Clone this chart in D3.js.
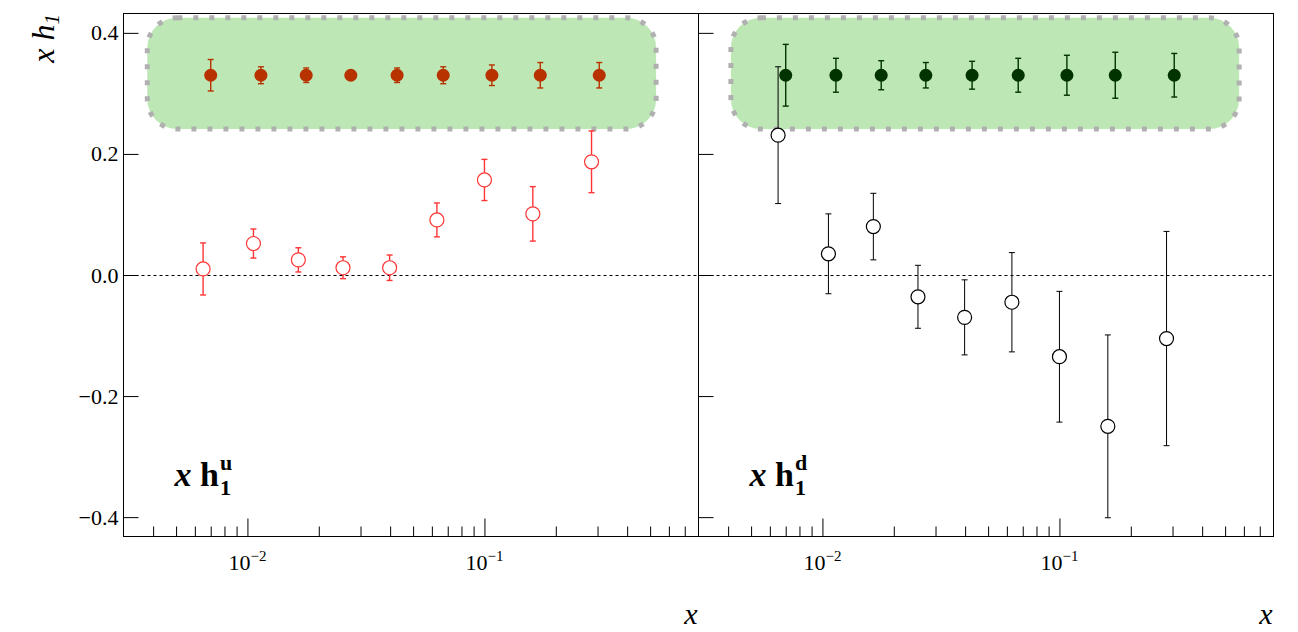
<!DOCTYPE html>
<html>
<head>
<meta charset="utf-8">
<script src="https://cdn.jsdelivr.net/npm/d3@7"></script>
<style>
  html, body { margin: 0; padding: 0; background: #ffffff; }
  svg { display: block; }
  text { font-family: "Liberation Serif", "Times New Roman", serif; fill: #000; }
</style>
</head>
<body>
<svg id="chart" width="1298" height="632"></svg>
<script>
// Bin centres in x for the extracted transversity points
const xBins = [0.0065, 0.0106, 0.0164, 0.0253, 0.0398, 0.0630, 0.100, 0.160, 0.283];
// Projection points are drawn slightly to the right of each bin
const xProj = [0.0070, 0.0114, 0.0177, 0.0273, 0.0428, 0.0670, 0.1075, 0.172, 0.305];

// u quark: extracted values and their errors
const uValues = [0.010, 0.052, 0.025, 0.012, 0.012, 0.091, 0.157, 0.101, 0.187];
const uErrors = [0.043, 0.024, 0.020, 0.018, 0.021, 0.028, 0.034, 0.045, 0.051];
// d quark: extracted values and their errors
const dValues = [0.231, 0.035, 0.080, -0.036, -0.070, -0.045, -0.135, -0.250, -0.105];
const dErrors = [0.113, 0.066, 0.055, 0.052, 0.062, 0.082, 0.108, 0.151, 0.177];

// Projected uncertainties, shown at a common reference level
const projLevel = [0.33, 0.33, 0.33, 0.33, 0.33, 0.33, 0.33, 0.33, 0.33];
const uProjErrors = [0.026, 0.014, 0.012, 0.006, 0.012, 0.014, 0.017, 0.021, 0.021];
const dProjErrors = [0.051, 0.028, 0.024, 0.021, 0.023, 0.028, 0.033, 0.038, 0.036];

// Axis ticks
const yTicks = [-0.4, -0.2, 0.0, 0.2, 0.4];
const xMajorTicks = [0.01, 0.1];
const xMajorLabels = ["\u22122", "\u22121"];
const xMinorTicks = [0.004, 0.005, 0.006, 0.007, 0.008, 0.009,
                     0.02, 0.03, 0.04, 0.05, 0.06, 0.07, 0.08, 0.09,
                     0.2, 0.3, 0.4, 0.5, 0.6, 0.7];

const xDomain = [0.003, 0.8];
const yDomain = [-0.432, 0.432];

// Highlight band behind the projection points (data units)
const uBand = { x0: 0.00378, x1: 0.53, y0: 0.241, y1: 0.425 };
const dBand = { x0: 0.00411, x1: 0.573, y0: 0.241, y1: 0.425 };

const svg = d3.select("#chart");
const plotTop = 13.5, plotBottom = 536.5, panelW = 575;
const panelsLeft = [123.5, 698.5];

const y = d3.scaleLinear().domain(yDomain).range([plotBottom, plotTop]);
const crisp = v => Math.round(v) + 0.5;

const panels = [
  { left: panelsLeft[0], values: uValues, errors: uErrors, proj: uProjErrors,
    band: uBand, color: "#ff3535", projColor: "#b83200", errWidth: 1.4, label: "u" },
  { left: panelsLeft[1], values: dValues, errors: dErrors, proj: dProjErrors,
    band: dBand, color: "#000000", projColor: "#003300", errWidth: 1.0, label: "d" }
];

panels.forEach((p, pi) => {
  const x = d3.scaleLog().domain(xDomain).range([p.left, p.left + panelW]);
  const g = svg.append("g");

  // zero reference line
  g.append("line")
    .attr("x1", p.left).attr("x2", p.left + panelW)
    .attr("y1", crisp(y(0))).attr("y2", crisp(y(0)))
    .attr("stroke", "#000").attr("stroke-width", 1)
    .attr("stroke-dasharray", "3,3");

  // rounded highlight band
  const bx0 = x(p.band.x0), bx1 = x(p.band.x1);
  const by0 = y(p.band.y1), by1 = y(p.band.y0);
  g.append("rect")
    .attr("x", bx0).attr("y", by0)
    .attr("width", bx1 - bx0).attr("height", by1 - by0)
    .attr("rx", 30).attr("ry", 30)
    .attr("fill", "#bde8b5")
    .attr("stroke", "#b0b0b0").attr("stroke-width", 5)
    .attr("stroke-dasharray", "5,11");

  // projection points with error bars
  const proj = g.append("g");
  projLevel.forEach((v, i) => {
    const cx = x(xProj[i]);
    const e = p.proj[i];
    proj.append("line")
      .attr("x1", cx).attr("x2", cx)
      .attr("y1", y(v + e)).attr("y2", y(v - e))
      .attr("stroke", p.projColor).attr("stroke-width", 1.4);
    [v + e, v - e].forEach(yy => {
      proj.append("line")
        .attr("x1", cx - 3).attr("x2", cx + 3)
        .attr("y1", y(yy)).attr("y2", y(yy))
        .attr("stroke", p.projColor).attr("stroke-width", 1.4);
    });
    proj.append("circle")
      .attr("cx", cx).attr("cy", y(v)).attr("r", 6.5)
      .attr("fill", p.projColor);
  });

  // extracted points: open circles with error bars
  const pts = g.append("g");
  p.values.forEach((v, i) => {
    const cx = x(xBins[i]);
    const e = p.errors[i];
    pts.append("line")
      .attr("x1", cx).attr("x2", cx)
      .attr("y1", y(v + e)).attr("y2", y(v - e))
      .attr("stroke", p.color).attr("stroke-width", p.errWidth);
    [v + e, v - e].forEach(yy => {
      pts.append("line")
        .attr("x1", cx - 3).attr("x2", cx + 3)
        .attr("y1", y(yy)).attr("y2", y(yy))
        .attr("stroke", p.color).attr("stroke-width", p.errWidth);
    });
    pts.append("circle")
      .attr("cx", cx).attr("cy", y(v)).attr("r", 7)
      .attr("fill", "#fff")
      .attr("stroke", p.color).attr("stroke-width", 1.2);
  });

  // frame
  g.append("rect")
    .attr("x", p.left).attr("y", plotTop)
    .attr("width", panelW).attr("height", plotBottom - plotTop)
    .attr("fill", "none").attr("stroke", "#000").attr("stroke-width", 1);

  // y axis ticks (pointing inward)
  const yAxis = d3.axisLeft(y).tickValues(yTicks)
    .tickSizeInner(-15).tickSizeOuter(0).tickPadding(6)
    .tickFormat(pi === 0 ? d3.format(".1f") : () => "");
  const ya = g.append("g").attr("transform", `translate(${p.left},0)`).call(yAxis);
  ya.attr("font-family", null).attr("font-size", null);
  ya.select(".domain").remove();
  ya.selectAll(".tick line").attr("stroke", "#000");
  ya.selectAll(".tick text")
    .attr("font-size", 22).attr("x", -5);

  // x axis: minor and major ticks pointing up
  const xMinor = d3.axisBottom(x).tickValues(xMinorTicks)
    .tickSizeInner(-10).tickSizeOuter(0).tickFormat(() => "");
  const xm = g.append("g").attr("transform", `translate(0,${plotBottom})`).call(xMinor);
  xm.select(".domain").remove();
  xm.selectAll(".tick line").attr("stroke", "#000");

  const xMajor = d3.axisBottom(x).tickValues(xMajorTicks)
    .tickSizeInner(-18).tickSizeOuter(0).tickFormat(() => "");
  const xM = g.append("g").attr("transform", `translate(0,${plotBottom})`).call(xMajor);
  xM.select(".domain").remove();
  xM.selectAll(".tick line").attr("stroke", "#000");

  // power-of-ten labels
  xMajorTicks.forEach((t, i) => {
    const tx = g.append("text")
      .attr("x", x(t)).attr("y", 570)
      .attr("text-anchor", "middle")
      .attr("font-size", 22);
    tx.append("tspan").text("10");
    tx.append("tspan").attr("dy", -9).attr("font-size", 15).text(xMajorLabels[i]);
  });

  // x axis title
  g.append("text")
    .attr("x", p.left + panelW - 1).attr("y", 624)
    .attr("text-anchor", "end")
    .attr("font-size", 30).attr("font-style", "italic")
    .text("x");

  // panel label x h1^q
  const lx = p.left + 51;
  const lab = g.append("text").attr("x", lx).attr("y", 486)
    .attr("font-size", 34).attr("font-weight", "bold");
  lab.append("tspan").attr("font-style", "italic").text("x");
  lab.append("tspan").text(" h");
  const labW = lab.node().getComputedTextLength();
  g.append("text").attr("x", lx + labW + 1).attr("y", 470)
    .attr("font-size", 22).attr("font-weight", "bold").text(p.label);
  g.append("text").attr("x", lx + labW + 1).attr("y", 495)
    .attr("font-size", 22).attr("font-weight", "bold").text("1");
});

// y axis title
const yt = svg.append("text")
  .attr("transform", "translate(54,14) rotate(-90)")
  .attr("text-anchor", "end")
  .attr("font-size", 32).attr("font-style", "italic");
yt.append("tspan").text("x h");
yt.append("tspan").attr("dy", 5).attr("font-size", 21).text("1");
</script>
</body>
</html>
